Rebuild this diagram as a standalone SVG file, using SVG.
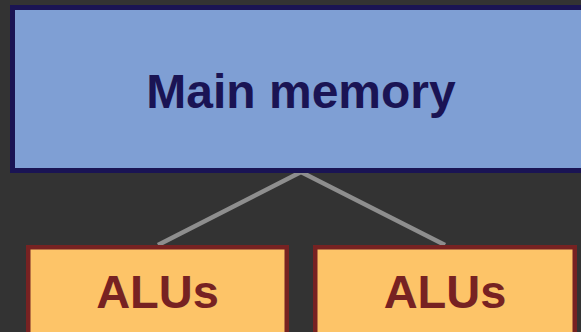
<svg xmlns="http://www.w3.org/2000/svg" width="581" height="332" viewBox="0 0 581 332">
  <defs>
    <style>
      .mem rect { fill: #7f9fd4; stroke: #1a1454; stroke-width: 5; }
      .mem text { fill: #1a1454; font-family: "Liberation Sans", Arial, sans-serif; font-weight: bold; font-size: 48px; text-anchor: middle; }
      .alu rect { fill: #fdc468; stroke: #772222; stroke-width: 4.5; }
      .alu text { fill: #772222; font-family: "Liberation Sans", Arial, sans-serif; font-weight: bold; font-size: 47px; text-anchor: middle; }
      .link { fill: none; stroke: #8e8e8e; stroke-width: 4.5; stroke-linejoin: miter; }
    </style>
  </defs>
  <rect width="581" height="332" fill="#333333"/>

  <g id="connectors">
    <polyline class="link" points="158,245 301,172 445,245"/>
  </g>

  <g id="main-memory" class="mem">
    <rect x="12.5" y="7.5" width="580" height="163"/>
    <text x="301" y="108">Main memory</text>
  </g>

  <g id="alus-left" class="alu">
    <rect x="28.25" y="247.25" width="258.5" height="100"/>
    <text x="157.5" y="308">ALUs</text>
  </g>

  <g id="alus-right" class="alu">
    <rect x="315.25" y="247.25" width="259.5" height="100"/>
    <text x="445" y="308">ALUs</text>
  </g>
</svg>
